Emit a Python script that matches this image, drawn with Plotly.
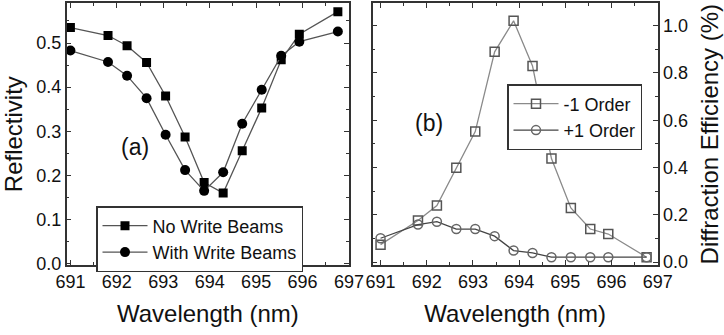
import plotly.graph_objects as go

# ---- data ----
wavelength = [691.0, 691.81, 692.22, 692.64, 693.05, 693.47, 693.88,
              694.29, 694.70, 695.12, 695.54, 695.93, 696.76]
refl_no_write = [0.535, 0.517, 0.494, 0.456, 0.380, 0.287, 0.184,
                 0.160, 0.256, 0.353, 0.462, 0.520, 0.571]
refl_with_write = [0.483, 0.457, 0.426, 0.375, 0.292, 0.212, 0.165,
                   0.207, 0.317, 0.394, 0.471, 0.503, 0.526]
de_minus1 = [0.074, 0.176, 0.239, 0.399, 0.552, 0.889, 1.020,
             0.829, 0.438, 0.229, 0.140, 0.119, 0.021]
de_plus1 = [0.101, 0.159, 0.171, 0.140, 0.140, 0.110, 0.049,
            0.039, 0.021, 0.021, 0.021, 0.021, 0.021]

W, H = 724, 335
FONT = "Liberation Sans, Arial, sans-serif"
AX = "#333333"
TXT = "#111111"

fig = go.Figure()

fig.add_trace(go.Scatter(
    x=wavelength, y=refl_no_write, mode="lines+markers", name="No Write Beams",
    line=dict(color="#555555", width=1.3),
    marker=dict(symbol="square", size=9, color="#000000"),
    xaxis="x", yaxis="y", legend="legend"))
fig.add_trace(go.Scatter(
    x=wavelength, y=refl_with_write, mode="lines+markers", name="With Write Beams",
    line=dict(color="#555555", width=1.3),
    marker=dict(symbol="circle", size=10, color="#000000"),
    xaxis="x", yaxis="y", legend="legend"))
fig.add_trace(go.Scatter(
    x=wavelength, y=de_minus1, mode="lines+markers", name="-1 Order",
    line=dict(color="#8a8a8a", width=1.3),
    marker=dict(symbol="square-open", size=9, color="#555555", line=dict(width=1.5)),
    xaxis="x2", yaxis="y2", legend="legend2"))
fig.add_trace(go.Scatter(
    x=wavelength, y=de_plus1, mode="lines+markers", name="+1 Order",
    line=dict(color="#444444", width=1.3),
    marker=dict(symbol="circle-open", size=9, color="#666666", line=dict(width=1.5)),
    xaxis="x2", yaxis="y2", legend="legend2"))

ax_common = dict(
    showline=True, linecolor=AX, linewidth=1.5, mirror="ticks",
    ticks="inside", ticklen=5, tickwidth=1, tickcolor=AX,
    showgrid=False, zeroline=False, automargin=False,
    tickfont=dict(family=FONT, size=18, color=TXT),
    title_font=dict(family=FONT, size=24, color=TXT),
)

def dom(px0, px1, total):
    return [px0 / total, px1 / total]

ydom = [1 - 265 / H, 1 - 3.3 / H]

fig.update_layout(
    width=W, height=H, margin=dict(l=0, r=0, t=0, b=0),
    paper_bgcolor="white", plot_bgcolor="white", template="none",
    font=dict(family=FONT, color=TXT),
    xaxis=dict(domain=dom(66.7, 349, W), range=[690.92, 697.0], dtick=1,
               tick0=691, minor=dict(dtick=0.5, ticks="inside", ticklen=3, tickcolor=AX),
               title=dict(text="Wavelength (nm)", standoff=14), anchor="y", **ax_common),
    yaxis=dict(domain=ydom, range=[-0.003, 0.59], dtick=0.1, tick0=0,
               tickformat=".1f",
               minor=dict(dtick=0.05, ticks="inside", ticklen=3, tickcolor=AX),
               title=dict(text="Reflectivity", standoff=12), anchor="x", **ax_common),
    xaxis2=dict(domain=dom(372.7, 657.7, W), range=[690.83, 697.0], dtick=1,
                tick0=691, minor=dict(dtick=0.5, ticks="inside", ticklen=3, tickcolor=AX),
                title=dict(text="Wavelength (nm)", standoff=14), anchor="y2", **ax_common),
    yaxis2=dict(domain=ydom, range=[-0.012, 1.094], dtick=0.2, tick0=0,
                tickformat=".1f", side="right",
                minor=dict(dtick=0.1, ticks="inside", ticklen=3, tickcolor=AX),
                title=dict(text="Diffraction Efficiency (%)", standoff=14),
                anchor="x2", **ax_common),
    legend=dict(x=96 / W, y=1 - 206 / H, xanchor="left", yanchor="top",
                bgcolor="white", bordercolor=AX, borderwidth=1.5,
                font=dict(family=FONT, size=18, color=TXT),
                itemwidth=45, tracegroupgap=0),
    legend2=dict(x=507 / W, y=1 - 84 / H, xanchor="left", yanchor="top",
                 bgcolor="white", bordercolor=AX, borderwidth=1.5,
                 font=dict(family=FONT, size=18, color=TXT),
                 itemwidth=45, tracegroupgap=0),
    showlegend=True,
    annotations=[
        dict(text="(a)", x=119 / W, y=1 - 147 / H, xref="paper", yref="paper",
             showarrow=False, font=dict(family=FONT, size=23, color=TXT)),
        dict(text="(b)", x=429 / W, y=1 - 108 / H, xref="paper", yref="paper",
             showarrow=False, font=dict(family=FONT, size=23, color=TXT)),
    ],
)

fig.write_html("out.html")
